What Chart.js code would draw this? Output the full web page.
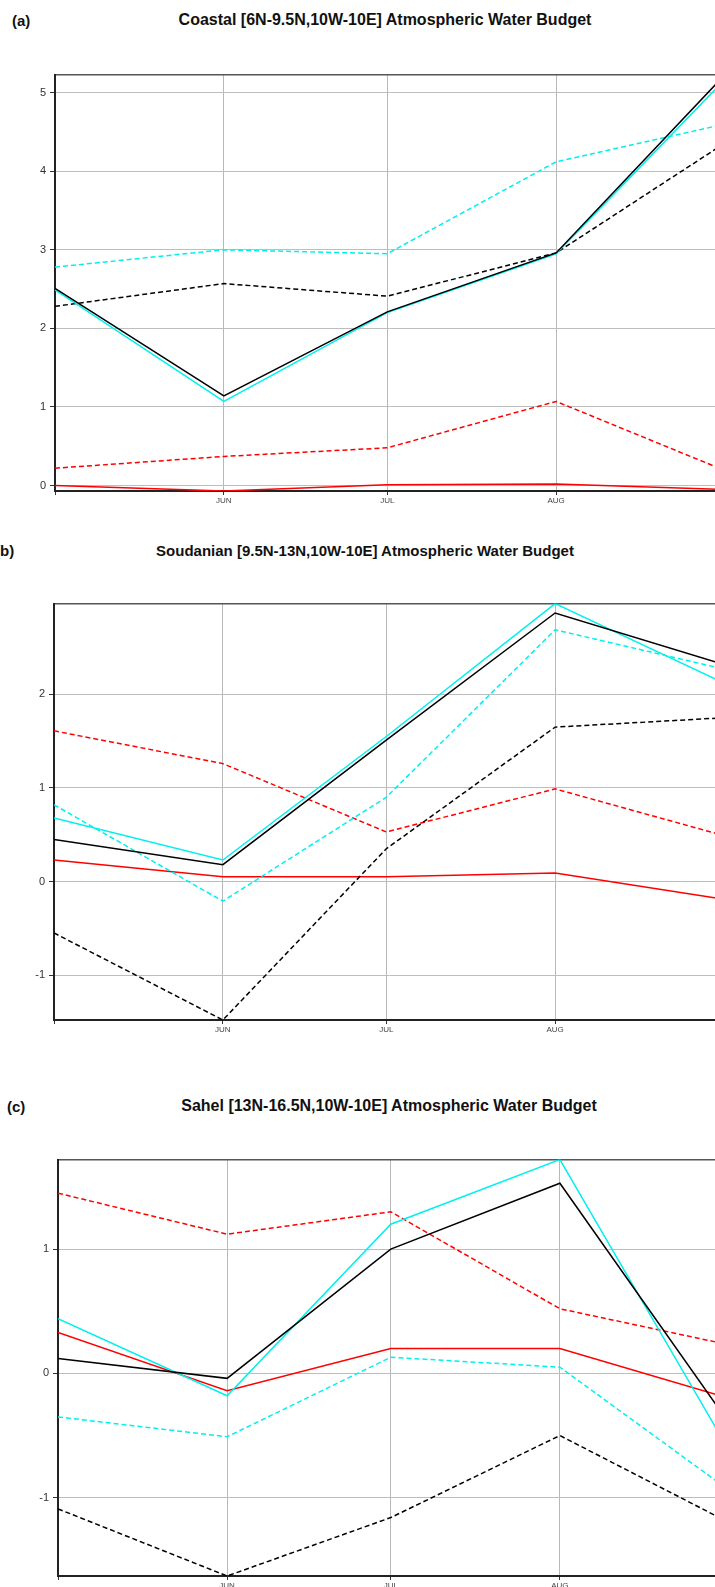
<!DOCTYPE html>
<html>
<head>
<meta charset="utf-8">
<script src="https://cdn.jsdelivr.net/npm/chart.js@4.4.1/dist/chart.umd.min.js"></script>
<style>
  html, body { margin: 0; padding: 0; width: 715px; height: 1587px; overflow: hidden; background: #fff; }
  body { position: relative; }
  .title { position: absolute; font: bold 16px "Liberation Sans", Arial, sans-serif; color: #111; white-space: nowrap; transform: translate(-50%, -50%); }
  .tag { position: absolute; font: bold 15px "Liberation Sans", Arial, sans-serif; color: #111; white-space: nowrap; transform: translateY(-50%); }
  canvas { position: absolute; left: 0; }
</style>
</head>
<body>
<div class="tag" style="left:12px;top:20px">(a)</div>
<div class="title" style="left:385px;top:20px">Coastal [6N-9.5N,10W-10E] Atmospheric Water Budget</div>
<canvas id="coastal" width="735" height="457" style="top:64px;width:735px;height:457px"></canvas>

<div class="tag" style="left:-5px;top:550px">(b)</div>
<div class="title" style="left:365px;top:550px;font-size:15px">Soudanian [9.5N-13N,10W-10E] Atmospheric Water Budget</div>
<canvas id="soudanian" width="734" height="457" style="top:593px;width:734px;height:457px"></canvas>

<div class="tag" style="left:7px;top:1106px">(c)</div>
<div class="title" style="left:389px;top:1106px">Sahel [13N-16.5N,10W-10E] Atmospheric Water Budget</div>
<canvas id="sahel" width="739" height="457" style="top:1149px;width:739px;height:457px"></canvas>

<script>
// Time axis: days counted from 1 May; one value per month start (May..Sep)
const monthDay = [0, 31, 61, 92, 123];
const monthTick = ['', 'JUN', 'JUL', 'AUG', ''];

// Coastal band 6N-9.5N
const coastalBlackSolid  = [2.51, 1.14, 2.21, 2.96, 5.23];
const coastalCyanSolid   = [2.49, 1.07, 2.20, 2.95, 5.17];
const coastalBlackDashed = [2.28, 2.57, 2.41, 2.96, 4.36];
const coastalCyanDashed  = [2.78, 3.00, 2.95, 4.12, 4.60];
const coastalRedDashed   = [0.22, 0.37, 0.48, 1.07, 0.19];
const coastalRedSolid    = [0.00, -0.07, 0.01, 0.02, -0.05];
const coastalYTicks = [0, 1, 2, 3, 4, 5];

// Soudanian band 9.5N-13N
const soudanianBlackSolid  = [0.45, 0.18, 1.51, 2.87, 2.32];
const soudanianCyanSolid   = [0.68, 0.23, 1.55, 2.97, 2.12];
const soudanianBlackDashed = [-0.55, -1.48, 0.35, 1.65, 1.75];
const soudanianCyanDashed  = [0.82, -0.21, 0.90, 2.69, 2.27];
const soudanianRedDashed   = [1.61, 1.26, 0.53, 0.99, 0.49];
const soudanianRedSolid    = [0.23, 0.05, 0.05, 0.09, -0.19];
const soudanianYTicks = [-1, 0, 1, 2];

// Sahel band 13N-16.5N
const sahelBlackSolid  = [0.12, -0.04, 1.00, 1.53, -0.40];
const sahelCyanSolid   = [0.44, -0.18, 1.20, 1.72, -0.62];
const sahelBlackDashed = [-1.09, -1.63, -1.16, -0.50, -1.20];
const sahelCyanDashed  = [-0.35, -0.51, 0.13, 0.05, -0.94];
const sahelRedDashed   = [1.45, 1.12, 1.30, 0.52, 0.23];
const sahelRedSolid    = [0.33, -0.14, 0.20, 0.20, -0.20];
const sahelYTicks = [-1, 0, 1];

const FONT = 'Liberation Sans, Arial, sans-serif';
const BLACK = '#000000', CYAN = '#00f0f0', RED = '#ff0000';

function line(values, color, dashed) {
  return {
    data: values.map((v, i) => ({ x: monthDay[i], y: v })),
    borderColor: color,
    borderWidth: 1.5,
    borderDash: dashed ? [5, 3] : [],
    pointRadius: 0,
    fill: false,
    tension: 0
  };
}

function panel(id, sets, yTicks, axisWidth) {
  const all = sets.flatMap(s => s.data.map(p => p.y));
  new Chart(document.getElementById(id), {
    type: 'line',
    data: { datasets: sets },
    options: {
      responsive: false,
      animation: false,
      devicePixelRatio: 1,
      layout: { padding: { top: 10, right: 10, left: 0, bottom: 0 } },
      plugins: { legend: { display: false }, tooltip: { enabled: false } },
      scales: {
        x: {
          type: 'linear',
          position: 'bottom',
          min: monthDay[0],
          max: monthDay[monthDay.length - 1],
          afterBuildTicks: s => { s.ticks = monthDay.map(v => ({ value: v })); },
          afterFit: s => { s.height = 30; },
          ticks: {
            autoSkip: false, maxRotation: 0, padding: 1,
            color: '#444', font: { family: FONT, size: 8 },
            callback: (v, i) => monthTick[i]
          },
          grid: { color: '#b8b8b8', lineWidth: 1, tickLength: 4, tickColor: '#333' },
          border: { color: '#222', width: 2 }
        },
        frameTop: {
          type: 'linear',
          position: 'top',
          display: true,
          min: monthDay[0],
          max: monthDay[monthDay.length - 1],
          afterFit: s => { s.height = 0; },
          ticks: { display: false },
          grid: { display: false },
          border: { display: true, color: '#555', width: 1.5 }
        },
        y: {
          type: 'linear',
          min: Math.min(...all),
          max: Math.max(...all),
          afterBuildTicks: s => { s.ticks = yTicks.map(v => ({ value: v })); },
          afterFit: s => { s.width = axisWidth; },
          ticks: {
            padding: 4, color: '#333', font: { family: FONT, size: 11 },
            callback: v => String(v)
          },
          grid: { color: '#bdbdbd', lineWidth: 1, tickLength: 5, tickColor: '#333' },
          border: { color: '#222', width: 2 }
        }
      }
    }
  });
}

panel('coastal', [
  line(coastalBlackSolid, BLACK, false),
  line(coastalCyanSolid, CYAN, false),
  line(coastalBlackDashed, BLACK, true),
  line(coastalCyanDashed, CYAN, true),
  line(coastalRedDashed, RED, true),
  line(coastalRedSolid, RED, false)
], coastalYTicks, 55);

panel('soudanian', [
  line(soudanianBlackSolid, BLACK, false),
  line(soudanianCyanSolid, CYAN, false),
  line(soudanianBlackDashed, BLACK, true),
  line(soudanianCyanDashed, CYAN, true),
  line(soudanianRedDashed, RED, true),
  line(soudanianRedSolid, RED, false)
], soudanianYTicks, 54);

panel('sahel', [
  line(sahelBlackSolid, BLACK, false),
  line(sahelCyanSolid, CYAN, false),
  line(sahelBlackDashed, BLACK, true),
  line(sahelCyanDashed, CYAN, true),
  line(sahelRedDashed, RED, true),
  line(sahelRedSolid, RED, false)
], sahelYTicks, 58);
</script>
</body>
</html>
